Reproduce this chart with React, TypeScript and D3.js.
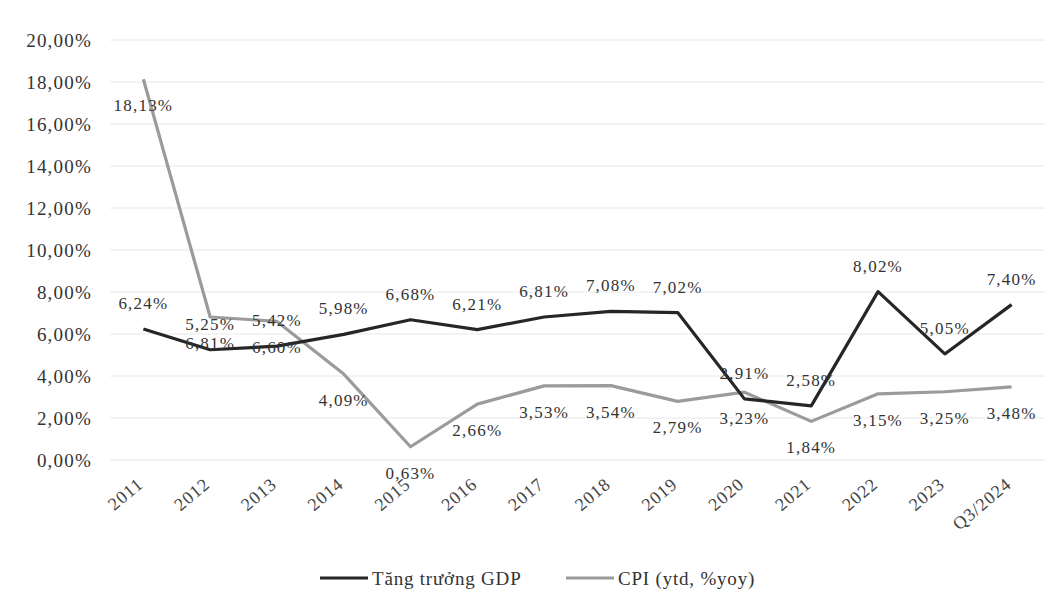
import React, { useEffect, useRef } from 'react'
import * as d3 from 'd3'

const categories = ['2011', '2012', '2013', '2014', '2015', '2016', '2017', '2018', '2019', '2020', '2021', '2022', '2023', 'Q3/2024']
const gdp = [6.24, 5.25, 5.42, 5.98, 6.68, 6.21, 6.81, 7.08, 7.02, 2.91, 2.58, 8.02, 5.05, 7.4]
const cpi = [18.13, 6.81, 6.6, 4.09, 0.63, 2.66, 3.53, 3.54, 2.79, 3.23, 1.84, 3.15, 3.25, 3.48]
const yTicks = [0, 2, 4, 6, 8, 10, 12, 14, 16, 18, 20]
const seriesNames = ['Tăng trưởng GDP', 'CPI (ytd, %yoy)']

const WIDTH = 1057
const HEIGHT = 602
const FONT = '"Liberation Serif", "Times New Roman", serif'

const fmt = (v: number) => v.toFixed(2).replace('.', ',') + '%'

export default function App() {
  const ref = useRef<SVGSVGElement>(null)

  useEffect(() => {
    document.body.style.margin = '0'
    const svg = d3.select(ref.current)
    svg.selectAll('*').remove()

    const margin = { top: 40, right: 12, bottom: 142, left: 110 }

    const x = d3
      .scaleBand()
      .domain(categories)
      .range([margin.left, WIDTH - margin.right])

    const y = d3
      .scaleLinear()
      .domain([0, 20])
      .range([HEIGHT - margin.bottom, margin.top])

    const cx = (c: string) => (x(c) as number) + x.bandwidth() / 2

    svg.append('rect').attr('width', WIDTH).attr('height', HEIGHT).attr('fill', '#fff')

    // grid
    svg
      .append('g')
      .selectAll('line')
      .data(yTicks)
      .join('line')
      .attr('x1', margin.left)
      .attr('x2', WIDTH - margin.right)
      .attr('y1', d => y(d))
      .attr('y2', d => y(d))
      .attr('stroke', '#e8e8e8')
      .attr('stroke-width', 1)

    // y labels
    svg
      .append('g')
      .selectAll('text')
      .data(yTicks)
      .join('text')
      .attr('x', 92)
      .attr('y', d => y(d))
      .attr('dy', '0.35em')
      .attr('text-anchor', 'end')
      .style('font', `19px ${FONT}`)
      .style('letter-spacing', '1.2px')
      .attr('fill', '#333')
      .text(d => fmt(d))

    // x labels
    svg
      .append('g')
      .selectAll('text')
      .data(categories)
      .join('text')
      .attr('transform', d => `translate(${cx(d) + 1},${y(0) + 26}) rotate(-40)`)
      .attr('text-anchor', 'end')
      .style('font', `18px ${FONT}`)
      .style('letter-spacing', '1px')
      .attr('fill', '#444')
      .text(d => d)

    const line = d3
      .line<number>()
      .x((d, i) => cx(categories[i]))
      .y(d => y(d))

    const series = [
      { values: cpi, color: '#9b9b9b', dy: 32 },
      { values: gdp, color: '#262626', dy: -20 },
    ]

    series.forEach(s => {
      svg
        .append('path')
        .datum(s.values)
        .attr('d', line)
        .attr('fill', 'none')
        .attr('stroke', s.color)
        .attr('stroke-width', 3.2)
        .attr('stroke-linejoin', 'round')
    })

    series.forEach(s => {
      svg
        .append('g')
        .selectAll('text')
        .data(s.values)
        .join('text')
        .attr('x', (d, i) => cx(categories[i]))
        .attr('y', d => y(d) + s.dy)
        .attr('text-anchor', 'middle')
        .style('font', `17px ${FONT}`)
        .style('letter-spacing', '1.2px')
        .attr('fill', '#333')
        .text(d => fmt(d))
    })

    // legend
    const legend = [
      { name: seriesNames[0], color: '#262626', x: 320 },
      { name: seriesNames[1], color: '#9b9b9b', x: 566 },
    ]
    const lg = svg.append('g')
    legend.forEach(l => {
      lg.append('line')
        .attr('x1', l.x)
        .attr('x2', l.x + 48)
        .attr('y1', 578)
        .attr('y2', 578)
        .attr('stroke', l.color)
        .attr('stroke-width', 3.2)
      lg.append('text')
        .attr('x', l.x + 52)
        .attr('y', 578)
        .attr('dy', '0.35em')
        .style('font', `19px ${FONT}`)
        .style('letter-spacing', '0.8px')
        .attr('fill', '#333')
        .text(l.name)
    })
  }, [])

  return <svg ref={ref} width={WIDTH} height={HEIGHT} style={{ display: 'block' }} />
}
